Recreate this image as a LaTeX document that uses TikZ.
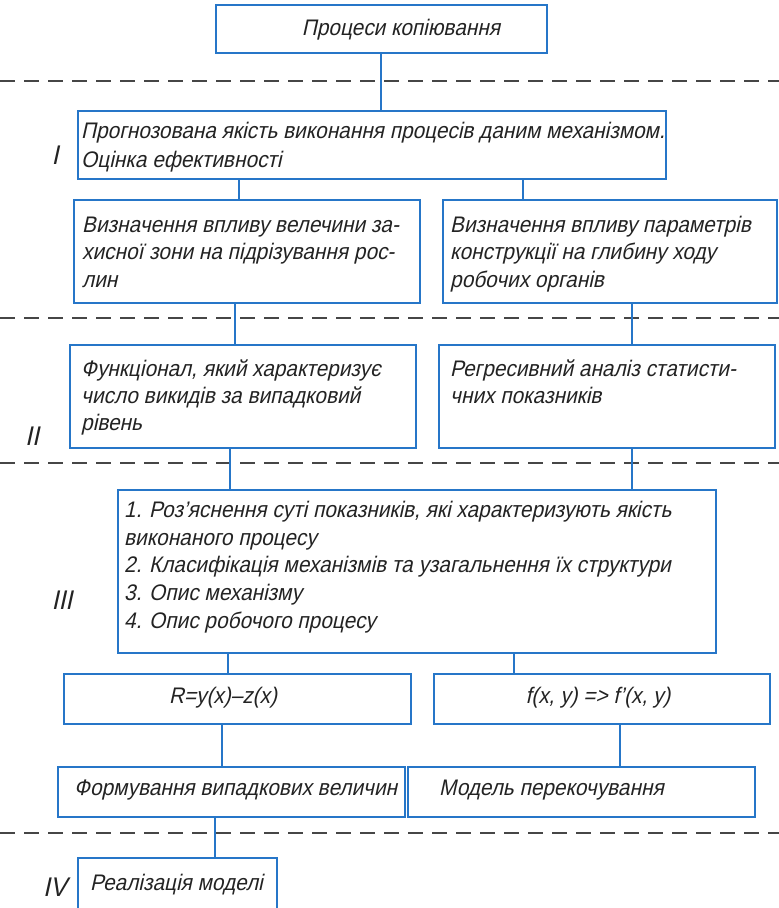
\documentclass[tikz,border=0pt]{standalone}
\usepackage{fontspec}
\setmainfont{Liberation Sans}[FakeSlant=0.22, FakeStretch=0.924]
\definecolor{boxblue}{RGB}{38,118,200}
\definecolor{sepgray}{RGB}{70,70,70}
\definecolor{inkgray}{RGB}{35,35,35}
% fixed-height strut on the first line of a text block
\newcommand\firstln{\rule{0pt}{18pt}}
\begin{document}
\begin{tikzpicture}[x=1pt,y=-1pt,
  blk/.style={draw=boxblue, line width=2.2pt, rectangle, inner sep=0pt, anchor=north west},
  txt/.style={anchor=north west, inner sep=0pt, align=left, text=inkgray, font=\fontsize{22.5}{27.5}\selectfont},
  ctxt/.style={inner sep=0pt, anchor=base, text=inkgray, font=\fontsize{22.5}{27}\selectfont},
  lvl/.style={inner sep=0pt, text=inkgray, font=\fontsize{27}{28}\selectfont},
  link/.style={draw=boxblue, line width=1.8pt},
  sep/.style={draw=sepgray, line width=1.3pt, dash pattern=on 15pt off 9pt}]
\useasboundingbox (0,0) rectangle (779,908);
\fill[white] (0,0) rectangle (779,908);

% level separators
\coordinate (sl1) at (0,81);   \coordinate (sr1) at (779,81);
\coordinate (sl2) at (0,318);  \coordinate (sr2) at (779,318);
\coordinate (sl3) at (0,463);  \coordinate (sr3) at (779,463);
\coordinate (sl4) at (0,833);  \coordinate (sr4) at (779,833);
\draw[sep] (sl1) -- (sr1);
\draw[sep] (sl2) -- (sr2);
\draw[sep] (sl3) -- (sr3);
\draw[sep] (sl4) -- (sr4);

% boxes
\node[blk, minimum width=331pt, minimum height=48pt]  (A) at (215,4)   {};
\node[blk, minimum width=588pt, minimum height=68pt]  (B) at (77,110)  {};
\node[blk, minimum width=346pt, minimum height=103pt] (C) at (73,199)  {};
\node[blk, minimum width=334pt, minimum height=103pt] (D) at (442,199) {};
\node[blk, minimum width=346pt, minimum height=103pt] (E) at (69,344)  {};
\node[blk, minimum width=336pt, minimum height=103pt] (F) at (438,344) {};
\node[blk, minimum width=598pt, minimum height=163pt] (G) at (117,489) {};
\node[blk, minimum width=347pt, minimum height=50pt]  (H) at (63,673)  {};
\node[blk, minimum width=336pt, minimum height=50pt]  (I) at (433,673) {};
\node[blk, minimum width=347pt, minimum height=50pt]  (J) at (57,766)  {};
\node[blk, minimum width=347pt, minimum height=50pt]  (K) at (407,766) {};
\node[blk, minimum width=199pt, minimum height=62pt]  (L) at (77,857)  {};

% texts
\node[ctxt] (tA) at (401,35) {Процеси копіювання};
\node[txt, font=\fontsize{22.5}{29}\selectfont] (tB) at (81,120) {\firstln Прогнозована якість виконання процесів даним механізмом.\\Оцінка ефективності};
\node[txt] (tC) at (82,214) {\firstln Визначення впливу велечини за-\\хисної зони на підрізування рос-\\лин};
\node[txt] (tD) at (450,214) {\firstln Визначення впливу параметрів\\конструкції на глибину ходу\\робочих органів};
\node[txt, font=\fontsize{22.5}{27}\selectfont] (tE) at (81,358) {\firstln Функціонал, який характеризує\\число викидів за випадковий\\рівень};
\node[txt, font=\fontsize{22.5}{27}\selectfont] (tF) at (450,358) {\firstln Регресивний аналіз статисти-\\чних показників};
\node[txt, font=\fontsize{22.5}{27.8}\selectfont] (tG) at (124,499) {\firstln 1. Роз’яснення суті показників, які характеризують якість\\виконаного процесу\\2. Класифікація механізмів та узагальнення їх структури\\3. Опис механізму\\4. Опис робочого процесу};
\node[ctxt] (tH) at (223,703) {R=y(x)–z(x)};
\node[ctxt] (tI) at (598,703) {f(x,\ y) => f’(x,\ y)};
\node[ctxt, anchor=base west] (tJ) at (74,795) {Формування випадкових величин};
\node[ctxt, anchor=base west] (tK) at (439,795) {Модель перекочування};
\node[ctxt, anchor=base west] (tL) at (90,890) {Реалізація моделі};

% level marks
\node[lvl] (l1) at (55,155) {I};
\node[lvl] (l2) at (32,436) {II};
\node[lvl] (l3) at (62,600) {III};
\node[lvl] (l4) at (55,887) {IV};

% connector positions
\coordinate (xAB) at (381,0);
\coordinate (xBC) at (239,0);
\coordinate (xBD) at (523,0);
\coordinate (xCE) at (235,0);
\coordinate (xDF) at (632,0);
\coordinate (xEG) at (230,0);
\coordinate (xFG) at (632,0);
\coordinate (xGH) at (228,0);
\coordinate (xGI) at (514,0);
\coordinate (xHJ) at (222,0);
\coordinate (xIK) at (620,0);
\coordinate (xJL) at (215,0);

% connectors
\draw[link] (A.south -| xAB) -- (B.north -| xAB);
\draw[link] (B.south -| xBC) -- (C.north -| xBC);
\draw[link] (B.south -| xBD) -- (D.north -| xBD);
\draw[link] (C.south -| xCE) -- (E.north -| xCE);
\draw[link] (D.south -| xDF) -- (F.north -| xDF);
\draw[link] (E.south -| xEG) -- (G.north -| xEG);
\draw[link] (F.south -| xFG) -- (G.north -| xFG);
\draw[link] (G.south -| xGH) -- (H.north -| xGH);
\draw[link] (G.south -| xGI) -- (I.north -| xGI);
\draw[link] (H.south -| xHJ) -- (J.north -| xHJ);
\draw[link] (I.south -| xIK) -- (K.north -| xIK);
\draw[link] (J.south -| xJL) -- (L.north -| xJL);
\end{tikzpicture}
\end{document}
